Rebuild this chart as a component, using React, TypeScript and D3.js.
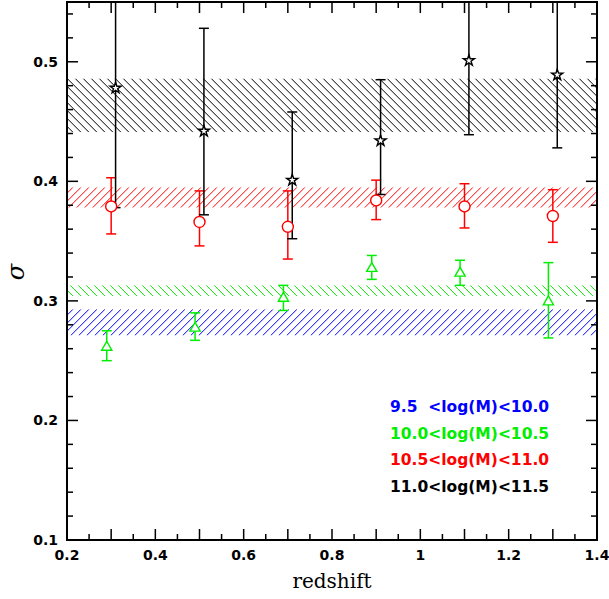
import { useRef, useEffect } from 'react';
import * as d3 from 'd3';

const zStar = [0.31, 0.51, 0.71, 0.91, 1.11, 1.31];
const sStar = [0.478, 0.442, 0.401, 0.434, 0.501, 0.489];
const loStar = [0.378, 0.372, 0.352, 0.389, 0.439, 0.428];
const hiStar = [0.6, 0.528, 0.458, 0.485, 0.6, 0.6];

const zCirc = [0.3, 0.5, 0.7, 0.9, 1.1, 1.3];
const sCirc = [0.379, 0.366, 0.362, 0.384, 0.379, 0.371];
const loCirc = [0.356, 0.346, 0.335, 0.368, 0.361, 0.349];
const hiCirc = [0.403, 0.392, 0.392, 0.401, 0.398, 0.393];

const zTri = [0.29, 0.49, 0.69, 0.89, 1.09, 1.29];
const sTri = [0.262, 0.278, 0.303, 0.328, 0.324, 0.3];
const loTri = [0.25, 0.267, 0.292, 0.318, 0.313, 0.269];
const hiTri = [0.275, 0.29, 0.313, 0.338, 0.334, 0.332];

const bands = [
  { lo: 0.271, hi: 0.293, color: '#0000ff', dir: 1 },
  { lo: 0.304, hi: 0.313, color: '#00ee00', dir: -1 },
  { lo: 0.378, hi: 0.395, color: '#ff0000', dir: 1 },
  { lo: 0.441, hi: 0.486, color: '#000000', dir: -1 },
];
const legend = [
  { t: '9.5  <log(M)<10.0', c: '#0000ff' },
  { t: '10.0<log(M)<10.5', c: '#00ee00' },
  { t: '10.5<log(M)<11.0', c: '#ff0000' },
  { t: '11.0<log(M)<11.5', c: '#000000' },
];

const App = () => {
  const ref = useRef<SVGSVGElement>(null);
  useEffect(() => {
    const svg = d3.select(ref.current);
    svg.selectAll('*').remove();
    const L = 67, R = 597, T = 2, B = 540;
    const x = d3.scaleLinear().domain([0.2, 1.4]).range([L, R]);
    const y = d3.scaleLinear().domain([0.1, 0.55]).range([B, T]);
    const defs = svg.append('defs');
    defs.append('clipPath').attr('id', 'clip').append('rect').attr('x', L).attr('y', T).attr('width', R - L).attr('height', B - T);
    const g = svg.append('g').attr('clip-path', 'url(#clip)');
    // hatched bands, drawn as clipped diagonal lines
    bands.forEach((b, i) => {
      const y0 = y(b.hi), y1 = y(b.lo), h = y1 - y0;
      defs.append('clipPath').attr('id', 'band' + i).append('rect').attr('x', L).attr('y', y0).attr('width', R - L).attr('height', h);
      const bg = g.append('g').attr('clip-path', `url(#band${i})`);
      for (let s = L - h - 10; s < R + h + 10; s += 8) {
        const xa = s, xb = s + h;
        bg.append('line').attr('stroke', b.color).attr('stroke-width', 1)
          .attr('x1', xa).attr('x2', xb)
          .attr('y1', b.dir > 0 ? y1 : y0).attr('y2', b.dir > 0 ? y0 : y1);
      }
    });
    const errs = (zs: number[], lo: number[], hi: number[], c: string) => {
      zs.forEach((z, i) => {
        const cx = x(z);
        g.append('line').attr('x1', cx).attr('x2', cx).attr('y1', y(lo[i])).attr('y2', y(hi[i])).attr('stroke', c).attr('stroke-width', 1.5);
        [lo[i], hi[i]].forEach(v => g.append('line').attr('x1', cx - 5).attr('x2', cx + 5).attr('y1', y(v)).attr('y2', y(v)).attr('stroke', c).attr('stroke-width', 1.5));
      });
    };
    errs(zTri, loTri, hiTri, '#00ee00');
    errs(zCirc, loCirc, hiCirc, '#ff0000');
    errs(zStar, loStar, hiStar, '#000000');
    const sym = (zs: number[], s: number[], type: d3.SymbolType, size: number, c: string, dy = 0) => {
      zs.forEach((z, i) => {
        g.append('path').attr('d', d3.symbol().type(type).size(size)())
          .attr('transform', `translate(${x(z)},${y(s[i]) + dy})`).attr('fill', 'white').attr('stroke', c).attr('stroke-width', 1.4);
      });
    };
    sym(zTri, sTri, d3.symbolTriangle, 45, '#00ee00', 1);
    sym(zCirc, sCirc, d3.symbolCircle, 95, '#ff0000');
    sym(zStar, sStar, d3.symbolStar, 38, '#000000');

    const ax = svg.append('g');
    ax.append('rect').attr('x', L).attr('y', T).attr('width', R - L).attr('height', B - T).attr('fill', 'none').attr('stroke', 'black').attr('stroke-width', 2);
    d3.range(0.2, 1.4001, 0.05).forEach(v => {
      const major = Math.abs(Math.round(v * 10) - v * 10) < 1e-6;
      const len = major ? 11 : 6;
      [[B, -len], [T, len]].forEach(([y0, d]) =>
        ax.append('line').attr('x1', x(v)).attr('x2', x(v)).attr('y1', y0).attr('y2', y0 + d).attr('stroke', 'black').attr('stroke-width', 1.5));
    });
    d3.range(0.1, 0.5501, 0.02).forEach(v => {
      const major = Math.abs(Math.round(v * 10) - v * 10) < 1e-6;
      const len = major ? 11 : 6;
      [[L, len], [R, -len]].forEach(([x0, d]) =>
        ax.append('line').attr('y1', y(v)).attr('y2', y(v)).attr('x1', x0).attr('x2', x0 + d).attr('stroke', 'black').attr('stroke-width', 1.5));
    });
    const f = 'DejaVu Sans, sans-serif';
    [0.2, 0.4, 0.6, 0.8, 1, 1.2, 1.4].forEach(v => ax.append('text').attr('x', x(v)).attr('y', 560).attr('text-anchor', 'middle')
      .attr('font-family', f).attr('font-weight', 'bold').attr('font-size', 14).text(d3.format('~g')(v)));
    [0.1, 0.2, 0.3, 0.4, 0.5].forEach(v => ax.append('text').attr('x', 58).attr('y', y(v) + 5).attr('text-anchor', 'end')
      .attr('font-family', f).attr('font-weight', 'bold').attr('font-size', 14).text(v.toFixed(1)));
    ax.append('text').attr('x', 332).attr('y', 588).attr('text-anchor', 'middle').attr('font-family', 'DejaVu Serif, serif')
      .attr('font-size', 20).text('redshift');
    ax.append('text').attr('x', 24).attr('y', 272).attr('text-anchor', 'middle').attr('font-family', 'DejaVu Serif, serif')
      .attr('font-style', 'italic').attr('font-size', 24).attr('transform', 'rotate(-90,24,272)').text('σ');
    legend.forEach((l, i) => ax.append('text').attr('x', 390).attr('y', 412 + i * 26.5).attr('font-family', f)
      .attr('font-weight', 'bold').attr('font-size', 15.5).attr('fill', l.c).style('white-space', 'pre').text(l.t));
  }, []);
  return <svg ref={ref} width={609} height={599} style={{ position: 'absolute', left: 0, top: 0 }} />;
};
export default App;
